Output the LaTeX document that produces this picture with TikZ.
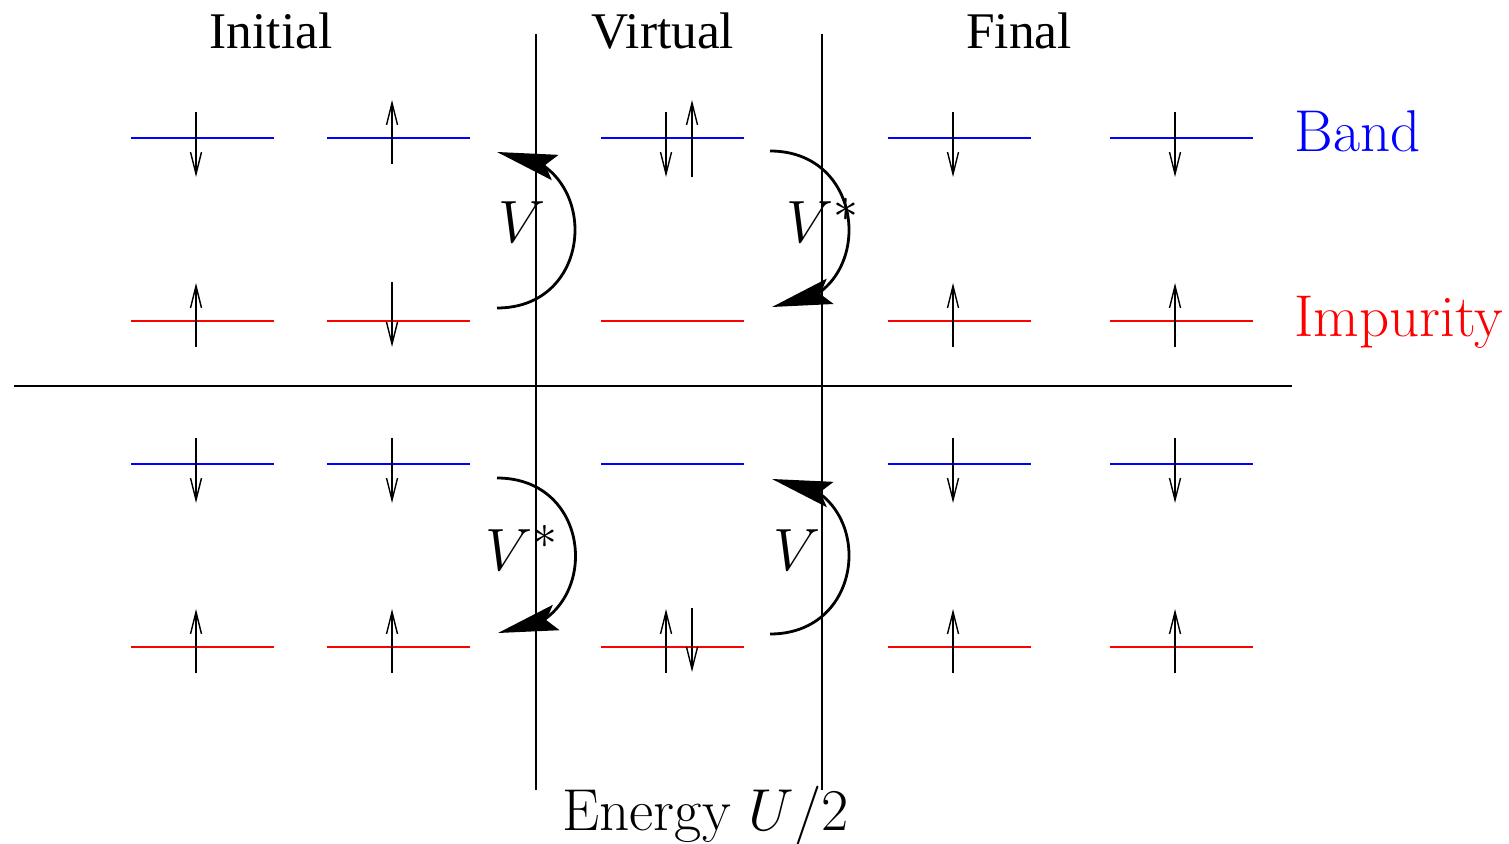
\documentclass[tikz,border=0pt]{standalone}
\usepackage{fontspec}
\newfontfamily\timesf{Liberation Serif}
\usetikzlibrary{arrows.meta,bending}
\definecolor{bandc}{RGB}{0,0,255}
\definecolor{impc}{RGB}{255,0,0}
\tikzset{
  bandlvl/.style={draw=bandc, line width=1.3pt},
  implvl/.style={draw=impc, line width=1.3pt},
  spin/.style={line width=1.3pt, -{Straight Barb[length=11pt,width=5.5pt,line width=0.7pt]}},
  sep/.style={line width=0.7pt},
  hop/.style={line width=1.4pt, -{Stealth[length=30pt,width=13pt,inset=5pt,flex=1]}},
  title/.style={font=\fontsize{25.7}{30}\timesf, anchor=base, inner sep=0pt},
  side/.style={font=\fontsize{29.5}{34}\selectfont, anchor=base west, inner sep=0pt},
  energy/.style={font=\Huge, scale=1.19, anchor=base west, inner sep=0pt},
  vlab/.style={font=\Huge, scale=1.2, anchor=base west, inner sep=0pt}
}
\begin{document}
\begin{tikzpicture}[x=0.5pt,y=-0.5pt]
\useasboundingbox (0,0) rectangle (1509,844);
% separators
\coordinate (hl) at (14,386); \coordinate (hr) at (1292,386);
\coordinate (v1t) at (536,34); \coordinate (v1b) at (536,790);
\coordinate (v2t) at (822,34); \coordinate (v2b) at (822,790);
\draw[sep] (hl) -- (hr);
\draw[sep] (v1t) -- (v1b);
\draw[sep] (v2t) -- (v2b);
% titles
\node[title] (ti) at (271,49) {Initial};
\node[title] (tv) at (663,49) {Virtual};
\node[title] (tf) at (1019,49) {Final};
\node[side, text=bandc] (lb) at (1294,152) {Band};
\node[side, text=impc] (li) at (1294,337) {Impurity};
\node[energy] (le) at (562,830) {Energy $U/2$};
% levels
\foreach \a/\b in {131/274,327/470,601/744,888/1031,1110/1253}{
  \draw[bandlvl] (\a,138) -- (\b,138);
  \draw[implvl] (\a,321) -- (\b,321);
  \draw[bandlvl] (\a,464) -- (\b,464);
  \draw[implvl] (\a,647) -- (\b,647);
}
% spins top
\draw[spin] (196,112) -- (196,177);
\draw[spin] (196,347) -- (196,283);
\draw[spin] (392,164) -- (392,100);
\draw[spin] (392,282) -- (392,347);
\draw[spin] (666,112) -- (666,177);
\draw[spin] (692,177) -- (692,100);
\foreach \x in {953,1175}{
  \draw[spin] (\x,112) -- (\x,177);
  \draw[spin] (\x,347) -- (\x,283);
}
% spins bottom
\foreach \x in {196,392,953,1175}{
  \draw[spin] (\x,438) -- (\x,503);
  \draw[spin] (\x,673) -- (\x,609);
}
\draw[spin] (666,673) -- (666,609);
\draw[spin] (692,608) -- (692,672);
% hopping arrows
\coordinate (a1) at (497,308); \coordinate (a2) at (497,152);
\coordinate (b1) at (770,151); \coordinate (b2) at (772,307);
\coordinate (c1) at (497,478); \coordinate (c2) at (498,633);
\coordinate (d1) at (770,634); \coordinate (d2) at (772,479);
\draw[hop] (a1) .. controls +(104,0) and +(104,0) .. (a2);
\draw[hop] (b1) .. controls +(104,0) and +(104,0) .. (b2);
\draw[hop] (c1) .. controls +(104,0) and +(104,0) .. (c2);
\draw[hop] (d1) .. controls +(104,0) and +(104,0) .. (d2);
\node[vlab] (va) at (498,243) {$V$};
\node[vlab] (vb) at (786,243) {$V^*$};
\node[vlab] (vc) at (485,570) {$V^*$};
\node[vlab] (vd) at (773,570) {$V$};
\end{tikzpicture}
\end{document}
